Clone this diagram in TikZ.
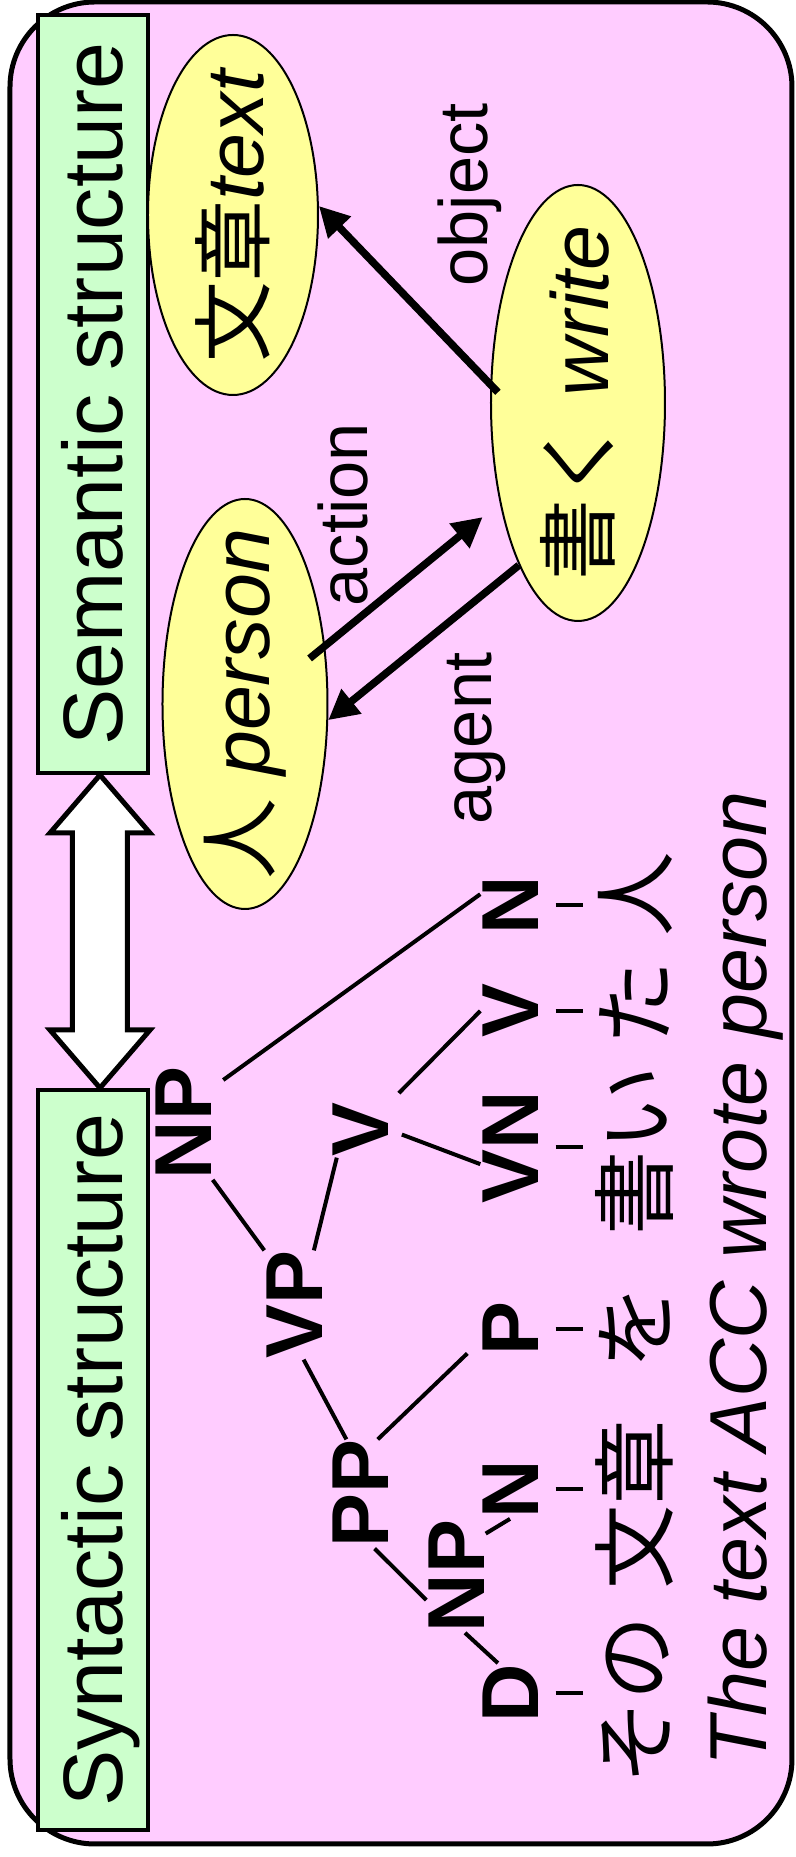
\documentclass[tikz,border=0pt]{standalone}
\usepackage{fontspec}
\setmainfont{Liberation Sans}
\newfontfamily\jp{Noto Sans CJK JP}
\usetikzlibrary{shapes.geometric,arrows.meta,calc}

\definecolor{bgpink}{HTML}{FFCCFF}
\definecolor{boxgreen}{HTML}{CCFFCC}
\definecolor{nodeyellow}{HTML}{FFFF99}

\tikzset{
  levelbox/.style={rectangle, draw=black, line width=0.4mm, fill=boxgreen, minimum height=11mm, text height=6mm, text depth=0pt, font=\fontsize{24}{28}\selectfont},
  concept/.style={ellipse, draw=black, line width=0.2mm, fill=nodeyellow, inner sep=0pt},
  every label/.style={inner sep=0pt, font=\fontsize{23}{27}\selectfont},
  cat/.style={inner sep=0pt, text height=5.8mm, text depth=0pt, font=\bfseries\fontsize{23}{27}\selectfont},
  word/.style={inner sep=0pt, text height=7mm, text depth=0.5mm, font=\jp\fontsize{24}{28}\selectfont},
  role/.style={inner sep=0pt, anchor=base west, font=\fontsize{19.5}{23}\selectfont},
  branch/.style={line width=0.4mm},
  tie/.style={line width=0.4mm, shorten <=1.6mm, shorten >=1.3mm},
  relation/.style={line width=0.75mm, -{Triangle[length=3mm,width=3mm]}},
  bothway/.style={line width=0.5mm, fill=white, line join=miter}
}

\begin{document}
\begin{tikzpicture}[x=0.1mm, y=0.1mm, rotate=90, transform shape]
	\useasboundingbox (0,0) rectangle (1857,795);
	\draw[line width=0.5mm, fill=bgpink, rounded corners=8.5mm] (13,3) rectangle (1855,785);
	
	% levels
	\node[levelbox, minimum width=74mm] (syn) at (397,702) {Syntactic structure};
	\node[levelbox, minimum width=75.8mm] (sem) at (1463,702) {Semantic structure};
	
	\coordinate (lo) at ($(syn.east)+(0,-7)$);
	\coordinate (hi) at ($(sem.west)+(0,-7)$);
	\draw[bothway] (lo) -- ++(58,50) -- ++(0,-22.5) -- ($(hi)+(-58,27.5)$) -- ++(0,22.5) -- (hi)
		-- ++(-58,-50) -- ++(0,22.5) -- ($(lo)+(58,-27.5)$) -- ++(0,-22.5) -- cycle;
	
	% semantic graph
	\node[concept, minimum width=36mm, minimum height=17mm, label={center:{\jp 文章}\textit{text}}] (textsem) at (1642,562) {};
	\node[concept, minimum width=43.6mm, minimum height=17.4mm, label={center:{\jp 書く} \textit{write}}] (writesem) at (1454,217) {};
	\node[concept, minimum width=41mm, minimum height=16.5mm, label={center:{\jp 人} \textit{person}}] (personsem) at (1153,550) {};
	
	\draw[relation, shorten <=-1.1mm] (writesem.78) -- (textsem.-84);
	\draw[relation, shorten <=-2mm, shorten >=2.2mm] (personsem.-54) -- (writesem.142);
	\draw[relation] (writesem.160) -- (personsem.-101);
	
	\node[role] (action) at (1250,427) {action};
	\node[role] (object) at (1570,307) {object};
	\node[role] (agent) at (1032,303) {agent};
	
	% syntactic tree
	\node[cat] (np) at (734,612) {NP};
	\node[cat] (vp) at (552,501) {VP};
	\node[cat] (vv) at (727,435) {V};
	\node[cat] (pp) at (363,435) {PP};
	\node[cat] (npb) at (281,339) {NP};
	
	\node[cat] (d) at (164,285) {D};
	\node[cat] (n) at (368,285) {N};
	\node[cat] (p) at (528,285) {P};
	\node[cat] (vn) at (710,285) {VN};
	\node[cat] (v) at (846,285) {V};
	\node[cat] (nb) at (952,285) {N};
	
	\node[word] (wsono) at (157,161) {その};
	\node[word] (wbun) at (352,161) {文章};
	\node[word] (wwo) at (530,161) {を};
	\node[word] (wkai) at (706,161) {書い};
	\node[word] (wta) at (854,161) {た};
	\node[word] (whito) at (963,161) {人};
	
	\draw[branch, shorten <=1.3mm] (np.-40) -- (nb.70);
	\draw[branch] (np.south west) -- (vp.north east);
	\draw[branch] (vp.-20) -- (vv.140);
	\draw[branch, shorten <=1.3mm] (vv.south east) -- (v.north);
	\draw[branch, shorten <=1.3mm] (vv.south) -- (vn.120);
	\draw[branch] (vp.190) -- (pp.14);
	\draw[branch, shorten >=1.8mm] (pp.-18) -- (p.112);
	\draw[branch] (pp.195) -- (npb.129);
	\draw[branch] (npb.-35) -- (n.west);
	\draw[branch] (npb.-171) -- (d.22);
	
	\draw[tie] (d.south) -- (d.south |- wsono.north);
	\draw[tie] (n.south) -- (n.south |- wbun.north);
	\draw[tie] (p.south) -- (p.south |- wwo.north);
	\draw[tie] (vn.south) -- (vn.south |- wkai.north);
	\draw[tie] (v.south) -- (v.south |- wta.north);
	\draw[tie] (nb.south) -- (nb.south |- whito.north);
	
	\node[anchor=base west, inner sep=0pt, font=\itshape\fontsize{23}{27}\selectfont] (gloss) at (90,28) {The text ACC wrote person};
\end{tikzpicture}
\end{document}
